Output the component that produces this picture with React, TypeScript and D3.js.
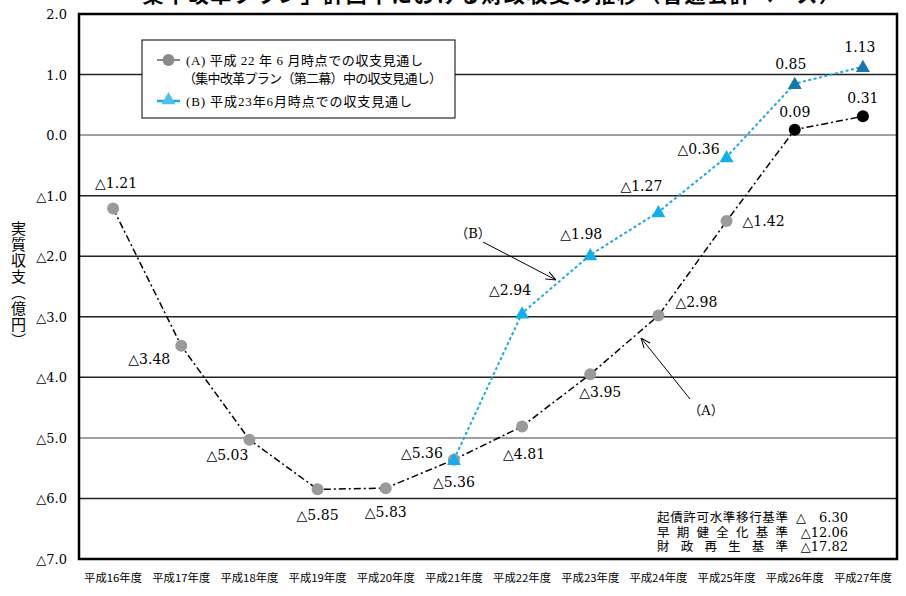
import React from "react";
import * as d3 from "d3";

const years = ["平成16年度","平成17年度","平成18年度","平成19年度","平成20年度","平成21年度","平成22年度","平成23年度","平成24年度","平成25年度","平成26年度","平成27年度"];
const seriesA = [-1.21, -3.48, -5.03, -5.85, -5.83, -5.36, -4.81, -3.95, -2.98, -1.42, 0.09, 0.31];
const seriesBYears = years.slice(5);
const seriesB = [-5.36, -2.94, -1.98, -1.27, -0.36, 0.85, 1.13];
const yTicks = [2, 1, 0, -1, -2, -3, -4, -5, -6, -7];
// label offsets (dx, dy) relative to point
const labelA: [number, number][] = [[3,-20],[-32,18],[-22,20],[0,31],[0,29],[-32,-2],[2,33],[10,23],[38,-9],[37,5],[0,-13],[0,-13]];
const labelB: [number, number][] = [[0,27],[-12,-18],[-9,-16],[-17,-21],[-28,-3],[-4,-15],[-3,-15]];
const yTitle = "実質収支（億円）";
const benchLabels = ["起債許可水準移行基準", "早期健全化基準", "財政再生基準"];
const benchValues = ["△　6.30", "△12.06", "△17.82"];

const fmt = (v: number) => (v < 0 ? "△" + Math.abs(v).toFixed(2) : v.toFixed(2));
const fmtTick = (v: number) => (v < 0 ? "△" + Math.abs(v).toFixed(1) : v.toFixed(1));

export default function App() {
  const W = 906, H = 596;
  const left = 79, right = 897, top = 14, bottom = 559;
  const x = d3.scalePoint<string>().domain(years).range([left, right]).padding(0.5);
  const y = d3.scaleLinear().domain([2, -7]).range([top, bottom]);
  const serif = "'DejaVu Serif', 'Liberation Serif', 'Noto Sans CJK JP', serif";
  const jp = "'Liberation Serif', 'Noto Sans CJK JP', serif";
  const lineA = d3.line<number>().x((_, i) => x(years[i])!).y(d => y(d));
  const lineB = d3.line<number>().x((_, i) => x(seriesBYears[i])!).y(d => y(d));
  const tri = (cx: number, cy: number, s = 7) => `M${cx},${cy - s} L${cx + s},${cy + s * 0.75} L${cx - s},${cy + s * 0.75} Z`;

  return (
    <div style={{ position: "fixed", left: 0, top: 0, width: W, height: H, background: "#fff" }}>
      <svg width={W} height={H} style={{ display: "block" }}>
        <defs>
          <marker id="arr" viewBox="0 0 10 10" refX="10" refY="5" markerWidth="10" markerHeight="10" orient="auto">
            <path d="M0,1 L10,5 L0,9" fill="none" stroke="#000" strokeWidth="1" />
          </marker>
        </defs>
        <text x={480} y={1.5} textAnchor="middle" fontSize={21} fontWeight="bold" fontFamily="'Noto Sans CJK JP'" textLength={720} lengthAdjust="spacing">「集中改革プラン」計画中における財政収支の推移（普通会計ベース）</text>
        {/* gridlines */}
        {yTicks.map(t => (
          <line key={t} x1={left} x2={right} y1={y(t)} y2={y(t)} stroke={t === 0 || t === -5 ? "#808080" : "#222"} strokeWidth={1.5} />
        ))}
        {/* y tick labels */}
        {yTicks.map(t => (
          <text key={"t" + t} x={67} y={y(t) + 5} textAnchor="end" fontSize={13} fontFamily={serif}>{fmtTick(t)}</text>
        ))}
        {/* x labels */}
        {years.map(yr => (
          <text key={yr} x={x(yr)!} y={582} textAnchor="middle" fontSize={11} fontFamily="'Noto Sans CJK JP'" textLength={58} lengthAdjust="spacingAndGlyphs">{yr}</text>
        ))}
        {/* series lines */}
        <path d={lineA(seriesA)!} fill="none" stroke="#000" strokeWidth={1.5} strokeDasharray="7,3,2,3" />
        <path d={lineB(seriesB)!} fill="none" stroke="#1ea7e1" strokeWidth={2} strokeDasharray="3,2.5" />
        {/* markers A */}
        {seriesA.map((v, i) => (
          <circle key={"a" + i} cx={x(years[i])!} cy={y(v)} r={6} fill={i >= 10 ? "#000" : "#9a9a9a"} />
        ))}
        {/* markers B */}
        {seriesB.map((v, i) => (
          <path key={"b" + i} d={tri(x(seriesBYears[i])!, y(v))} fill={i >= 5 ? "#1878ae" : "#14aee8"} />
        ))}
        {/* labels */}
        {seriesA.map((v, i) => (
          <text key={"la" + i} x={x(years[i])! + labelA[i][0]} y={y(v) + labelA[i][1]} textAnchor="middle" fontSize={14} fontFamily={serif}>{fmt(v)}</text>
        ))}
        {seriesB.map((v, i) => (
          <text key={"lb" + i} x={x(seriesBYears[i])! + labelB[i][0]} y={y(v) + labelB[i][1]} textAnchor="middle" fontSize={14} fontFamily={serif}>{fmt(v)}</text>
        ))}
        {/* annotations */}
        <text x={473} y={238} textAnchor="middle" fontSize={13} fontFamily={serif}>（B）</text>
        <line x1={483} y1={242} x2={556} y2={280} stroke="#000" strokeWidth={1} markerEnd="url(#arr)" />
        <text x={706} y={415} textAnchor="middle" fontSize={13} fontFamily={serif}>（A）</text>
        <line x1={690} y1={399} x2={641} y2={338} stroke="#000" strokeWidth={1} markerEnd="url(#arr)" />
        {/* legend */}
        <rect x={142} y={40} width={313} height={78} fill="#fff" stroke="#000" strokeWidth={1} />
        <line x1={157} x2={180} y1={60} y2={60} stroke="#888" strokeWidth={2} />
        <circle cx={168.5} cy={60} r={6} fill="#8a8a8a" />
        <text x={186} y={65} fontSize={13} fontFamily={jp} textLength={237} lengthAdjust="spacing">(A) 平成 22 年 6 月時点での収支見通し</text>
        <text x={183} y={83} fontSize={13} fontFamily={jp} textLength={259} lengthAdjust="spacing">（集中改革プラン（第二幕）中の収支見通し）</text>
        <line x1={157} x2={180} y1={101} y2={101} stroke="#1ea7e1" strokeWidth={2.5} />
        <path d={tri(168.5, 99, 7)} fill="#4fc0ee" />
        <text x={186} y={106} fontSize={13} fontFamily={jp} textLength={226} lengthAdjust="spacing">(B) 平成23年6月時点での収支見通し</text>
        {/* benchmark text */}
        {benchLabels.map((l, i) => (
          <text key={l} x={657} y={522 + i * 14.5} fontSize={12.5} fontFamily={jp} textLength={131} lengthAdjust="spacing">{l}</text>
        ))}
        {benchValues.map((v, i) => (
          <text key={v} x={848} y={522 + i * 14.5} textAnchor="end" fontSize={13} fontFamily={serif}>{v}</text>
        ))}
        {/* frame */}
        <rect x={left} y={top} width={right - left} height={bottom - top} fill="none" stroke="#000" strokeWidth={2.5} />
      </svg>
      <div style={{ position: "absolute", left: 9, top: 221, writingMode: "vertical-rl", fontSize: 15, lineHeight: "18px", letterSpacing: "1px", fontFamily: "'Noto Sans CJK JP', sans-serif", color: "#000", whiteSpace: "nowrap" }}>{yTitle}</div>
    </div>
  );
}
